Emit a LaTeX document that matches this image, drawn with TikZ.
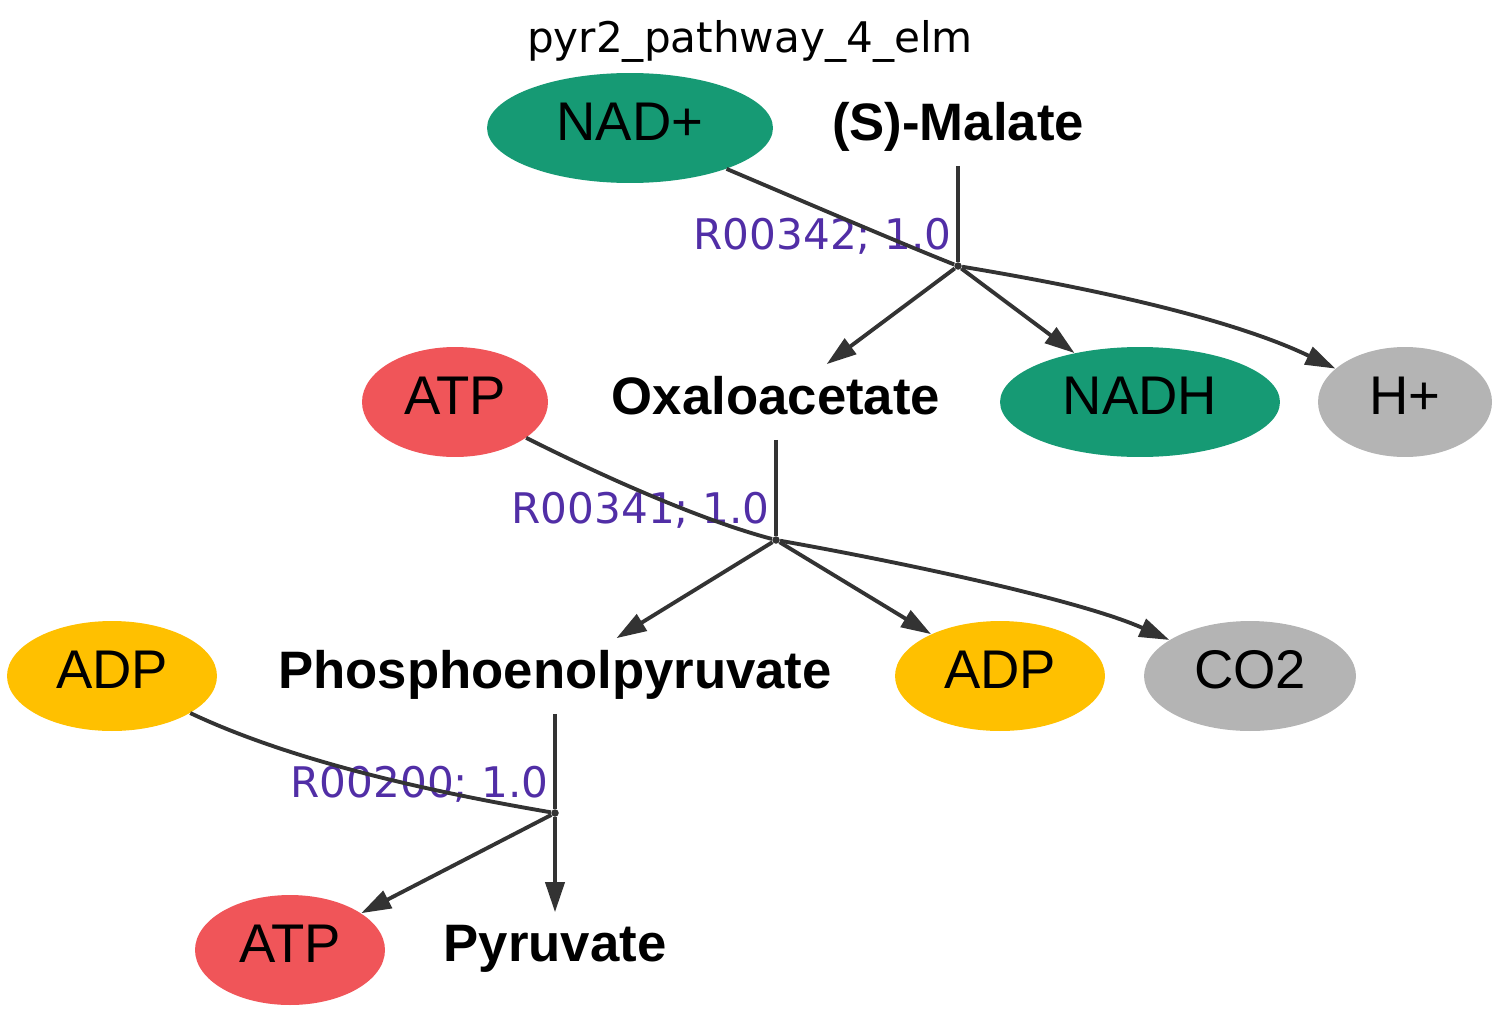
\documentclass[tikz,border=0pt]{standalone}
\usepackage{fontspec}
\setmainfont{Liberation Sans}
\newfontfamily\dejavu{DejaVu Sans}
\usepackage{xcolor}
\usetikzlibrary{shapes.geometric,arrows.meta}

\definecolor{nadgreen}{RGB}{22,154,116}
\definecolor{atpred}{RGB}{240,85,89}
\definecolor{adpyellow}{RGB}{255,192,0}
\definecolor{cofgray}{RGB}{180,180,180}
\definecolor{rxnpurple}{RGB}{81,46,166}
\definecolor{edgegray}{RGB}{51,51,51}

\begin{document}
\begin{tikzpicture}[
    x=0.02cm, y=-0.02cm,
    metab/.style={ellipse, inner sep=0pt, text depth=7pt, minimum height=2.2cm, font=\fontsize{31}{36}\selectfont},
    cpd/.style={rectangle, inner sep=0pt, text depth=7pt, minimum height=1.5cm, font=\fontsize{30}{36}\selectfont\bfseries},
    rxn/.style={anchor=base east, inner sep=0pt, text=rxnpurple, font=\dejavu\fontsize{24}{28}\selectfont},
    junc/.style={circle, fill=edgegray, inner sep=0pt, minimum size=0.15cm},
    edge/.style={draw=edgegray, line width=2.2pt},
    prod/.style={edge, -{Triangle[length=0.6cm, width=0.38cm]}}
]
\useasboundingbox (0,0) rectangle (1500,1014);

\node[anchor=base, font=\dejavu\fontsize{24}{28}\selectfont] (title) at (750,52) {pyr2\_pathway\_4\_elm};

% first step
\node[metab, fill=nadgreen, minimum width=5.72cm] (nad) at (630,128) {NAD+};
\node[cpd] (malate) at (958,128) {(S)-Malate};
\node[junc] (j1) at (958,266) {};
\node[rxn] (r342) at (952,249) {R00342; 1.0};

% second step
\node[metab, fill=atpred, minimum width=3.72cm] (atp1) at (455,402) {ATP};
\node[cpd] (oxalo) at (776,402) {Oxaloacetate};
\node[metab, fill=nadgreen, minimum width=5.6cm] (nadh) at (1140,402) {NADH};
\node[metab, fill=cofgray, minimum width=3.48cm] (hplus) at (1405,402) {H+};
\node[junc] (j2) at (776,540) {};
\node[rxn] (r341) at (770,523) {R00341; 1.0};

% third step
\node[metab, fill=adpyellow, minimum width=4.2cm] (adp1) at (112,676) {ADP};
\node[cpd] (pep) at (555,676) {Phosphoenolpyruvate};
\node[metab, fill=adpyellow, minimum width=4.2cm] (adp2) at (1000,676) {ADP};
\node[metab, fill=cofgray, minimum width=4.24cm] (co2) at (1250,676) {CO2};
\node[junc] (j3) at (555,813) {};
\node[rxn] (r200) at (549,797) {R00200; 1.0};

\node[metab, fill=atpred, minimum width=3.8cm] (atp2) at (290,950) {ATP};
\node[cpd] (pyr) at (555,950) {Pyruvate};

\draw[edge] (malate) -- (j1);
\draw[edge] (nad) .. controls (800,200) and (900,243) .. (j1);
\draw[prod] (j1) -- (oxalo);
\draw[prod] (j1) -- (nadh);
\draw[prod] (j1) .. controls (1090,288) and (1230,318) .. (hplus);

\draw[edge] (oxalo) -- (j2);
\draw[edge] (atp1) .. controls (600,475) and (700,520) .. (j2);
\draw[prod] (j2) -- (pep);
\draw[prod] (j2) -- (adp2);
\draw[prod] (j2) .. controls (900,562) and (1080,600) .. (co2);

\draw[edge] (pep) -- (j3);
\draw[edge] (adp1) .. controls (300,765) and (450,795) .. (j3);
\draw[prod] (j3) -- (atp2);
\draw[prod] (j3) -- (pyr);

\end{tikzpicture}
\end{document}
